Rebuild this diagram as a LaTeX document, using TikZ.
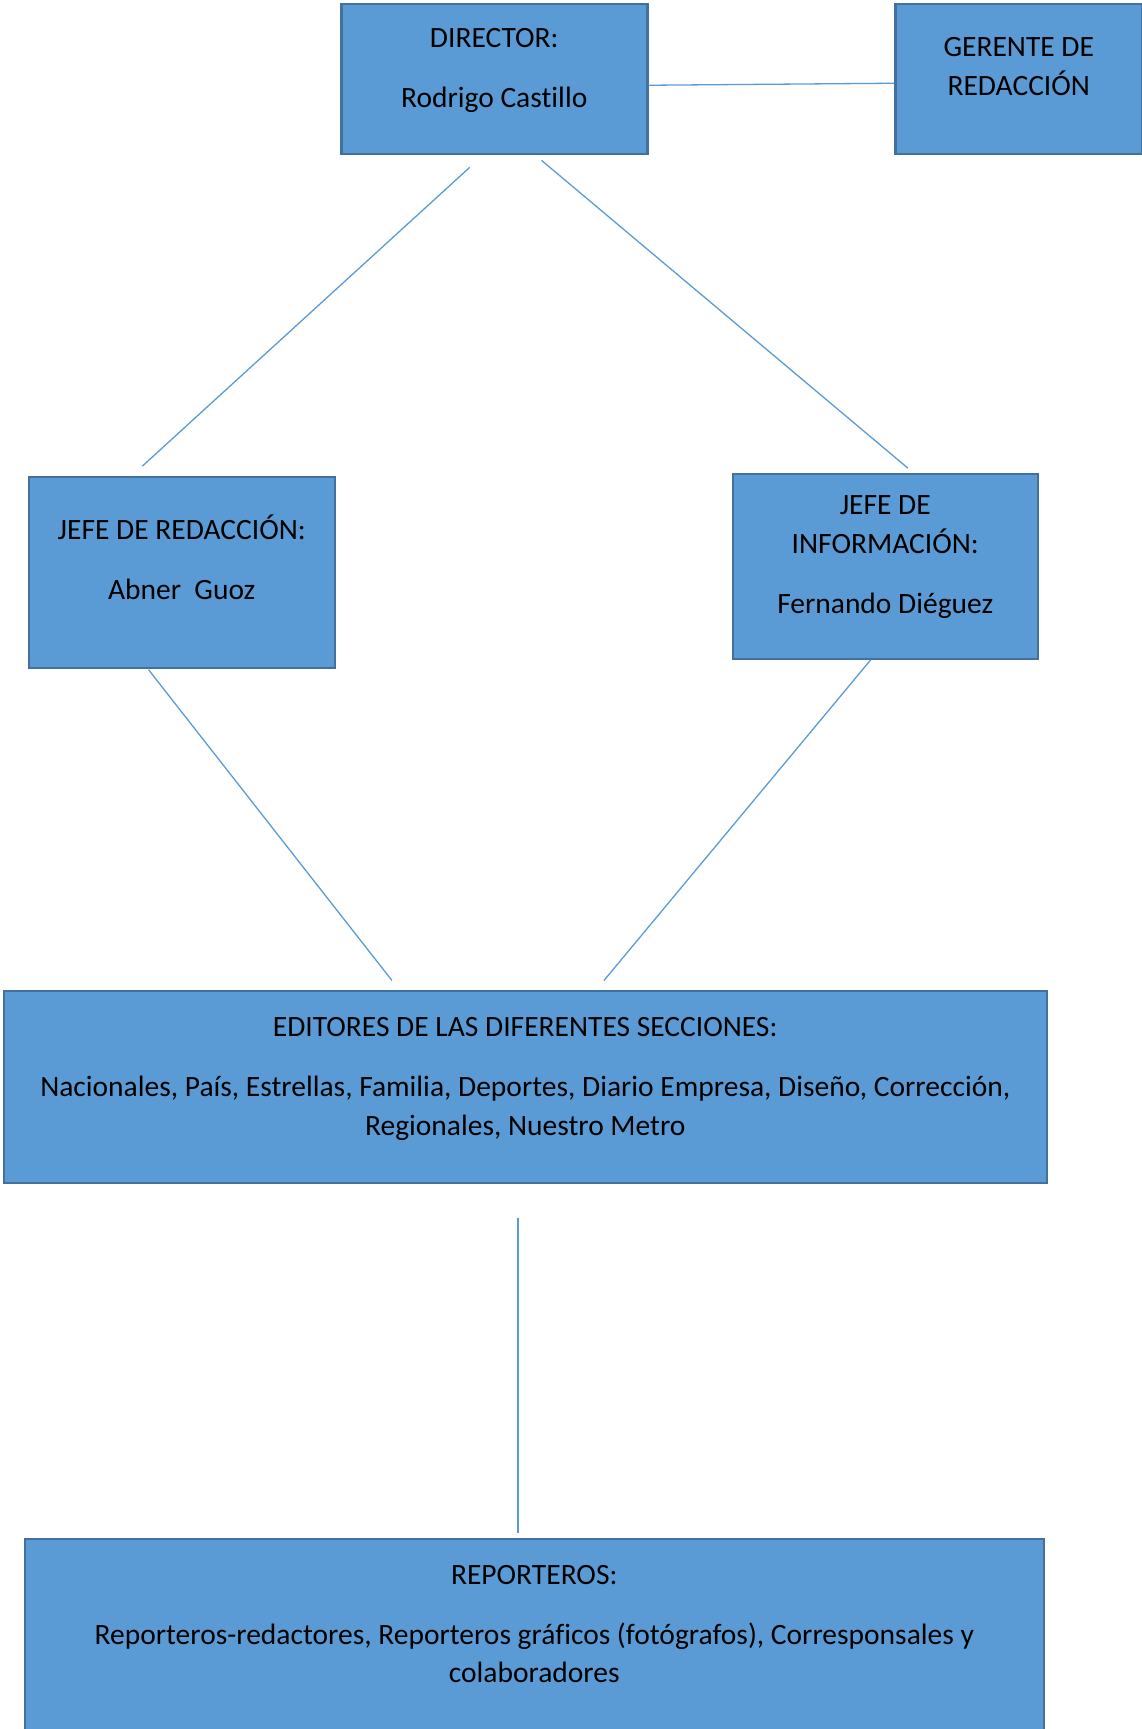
\documentclass[tikz,border=0pt]{standalone}
\usepackage{fontspec}
\setmainfont[Ligatures=NoCommon]{Carlito}
\usetikzlibrary{positioning}
\begin{document}
\begin{tikzpicture}[x=1pt,y=-1pt,
  cuadro/.style={rectangle,draw=bordecolor,fill=cajacolor,line width=2.5pt,inner sep=0pt,anchor=north west},
  rotulo/.style={inner sep=0pt,align=center,anchor=north,font=\fontsize{29.5}{38.7}\selectfont},
  enlace/.style={draw=lineacolor,line width=1.3pt}]
\definecolor{cajacolor}{RGB}{91,155,213}
\definecolor{bordecolor}{RGB}{65,113,156}
\definecolor{lineacolor}{RGB}{91,155,213}
\useasboundingbox (0,0) rectangle (1142,1729);
% cajas
\node (dir) [cuadro,minimum width=306pt,minimum height=150pt] at (340,2.5) {};
\node (ger) [cuadro,minimum width=247pt,minimum height=150pt] at (894,2.5) {};
\node (jr) [cuadro,minimum width=306pt,minimum height=191pt] at (27.5,475.5) {};
\node (ji) [cuadro,minimum width=305pt,minimum height=185pt] at (731.5,472.5) {};
\node (ed) [cuadro,minimum width=1043pt,minimum height=192pt] at (2.5,989.5) {};
\node (rep) [cuadro,minimum width=1019pt,minimum height=223pt] at (23.5,1537.5) {};
% textos
\node (dirtxt) [rotulo,below=17.3pt of dir.north] {\strut DIRECTOR:\\[21.3pt]Rodrigo Castillo};
\node (gertxt) [rotulo,below=26.6pt of ger.north] {\strut GERENTE DE\\REDACCIÓN};
\node (jrtxt) [rotulo,below=36.9pt of jr.north] {\strut JEFE DE REDACCIÓN:\\[21.3pt]Abner~~Guoz};
\node (jitxt) [rotulo,below=14.9pt of ji.north] {\strut JEFE DE\\INFORMACIÓN:\\[21.3pt]Fernando Diéguez};
\node (edtxt) [rotulo,below=19.6pt of ed.north] {\strut EDITORES DE LAS DIFERENTES SECCIONES:\\[21.3pt]Nacionales, País, Estrellas, Familia, Deportes, Diario Empresa, Diseño, Corrección,\\Regionales, Nuestro Metro};
\node (reptxt) [rotulo,below=19.3pt of rep.north] {\strut REPORTEROS:\\[21.3pt]Reporteros-redactores, Reporteros gráficos (fotógrafos), Corresponsales y\\colaboradores};
% lineas
\draw[enlace] ([yshift=-6.5pt]dir.east) -- ([yshift=-4.5pt]ger.west);
\draw[enlace] ([xshift=-24.5pt,yshift=-12.3pt]dir.south) -- ([xshift=-39.5pt,yshift=9.3pt]jr.north);
\draw[enlace] ([xshift=47.2pt,yshift=-5.3pt]dir.south) -- ([xshift=22.7pt,yshift=4.3pt]ji.north);
\draw[enlace] ([xshift=-33.2pt,yshift=-0.7pt]jr.south) -- ([xshift=-133.3pt,yshift=9pt]ed.north);
\draw[enlace] ([xshift=-14.7pt]ji.south) -- ([xshift=78.7pt,yshift=9pt]ed.north);
\draw[enlace] ([xshift=-7.3pt,yshift=-34pt]ed.south) -- ([xshift=-16.3pt,yshift=5pt]rep.north);
\end{tikzpicture}
\end{document}
